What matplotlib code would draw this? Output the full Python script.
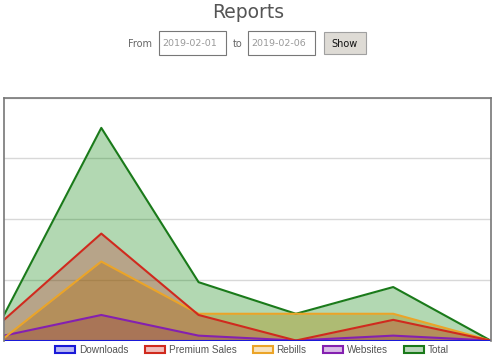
import matplotlib
matplotlib.use("Agg")
import matplotlib.pyplot as plt
from matplotlib.patches import Rectangle

# Daily report values (one point per day of the selected range)
dates = ["2019-02-01", "2019-02-02", "2019-02-03", "2019-02-04", "2019-02-05", "2019-02-06"]
downloads = [0, 0, 0, 0, 0, 0]
premium_sales = [17, 88, 21, 0, 17, 0]
rebills = [2, 65, 22, 22, 22, 0]
websites = [4, 21, 4, 0, 4, 0]
total = [21, 175, 48, 22, 44, 0]

series_names = ["Downloads", "Premium Sales", "Rebills", "Websites", "Total"]
line_colors = ["#1a1ad8", "#d02a1e", "#eba428", "#8420b0", "#1a7a1a"]
# fills are translucent and stack on top of each other like the canvas chart
fill_colors = [(0.1, 0.1, 0.85, 0.3), (0.78, 0.12, 0.12, 0.28), (0.66, 0.55, 0.05, 0.38),
               (0.4, 0.16, 0.6, 0.33), (0.0, 0.5, 0.0, 0.3)]

W, H = 500, 356
fig = plt.figure(figsize=(W / 100, H / 100), dpi=100)


def fx(px):
    return px / W


def fy(py):
    return 1 - py / H


# page header: title plus the date range form
fig.text(fx(248), fy(13), "Reports", ha="center", va="center", fontsize=13.5, color="#555555")
fig.text(fx(140), fy(44), "From", ha="center", va="center", fontsize=7, color="#666666")
fig.text(fx(238), fy(44), "to", ha="center", va="center", fontsize=7, color="#666666")
for x0, label in [(159, "2019-02-01"), (248, "2019-02-06")]:
    fig.patches.append(Rectangle((fx(x0), fy(55)), fx(67), 24 / H, transform=fig.transFigure,
                                 facecolor="white", edgecolor="#777777", lw=0.8))
    fig.text(fx(x0 + 3), fy(44), label, ha="left", va="center", fontsize=6.8, color="#999999")
fig.patches.append(Rectangle((fx(324), fy(54)), fx(42), 22 / H, transform=fig.transFigure,
                             facecolor="#dedbd5", edgecolor="#a0a0a0", lw=0.8))
fig.text(fx(345), fy(44), "Show", ha="center", va="center", fontsize=7, color="#111111")

ax = fig.add_axes([fx(4), fy(340.5), fx(486.5), (340.5 - 97.5) / H])
x = list(range(len(dates)))
values = [downloads, premium_sales, rebills, websites, total]

# draw last series first so Downloads ends up on top
for i in reversed(range(len(values))):
    ax.fill_between(x, values[i], 0, color=fill_colors[i], lw=0)
    ax.plot(x, values[i], color=line_colors[i], lw=1.5)

ax.set_xlim(0, len(dates) - 1)
ax.set_ylim(0, 200)
ax.set_yticks([0, 50, 100, 150, 200])
ax.set_xticks([])
ax.tick_params(left=False, labelleft=False)
ax.grid(axis="y", color="#d8d8d8", lw=1)
ax.set_axisbelow(True)
for side in ["left", "top", "right"]:
    ax.spines[side].set_color("#777777")
    ax.spines[side].set_linewidth(1.2)
ax.spines["bottom"].set_visible(False)

handles = [Rectangle((0, 0), 1, 1, facecolor=(*matplotlib.colors.to_rgb(c), 0.3),
                     edgecolor=c, lw=1.5) for c in line_colors]
fig.legend(handles, series_names, loc="center", bbox_to_anchor=(fx(252), fy(350)),
           ncol=5, frameon=False, handlelength=2.0, handleheight=0.6,
           columnspacing=1.6, handletextpad=0.4, prop={"family": "Liberation Sans", "size": 7.2},
           labelcolor="#555555", borderpad=0.1)

fig.savefig("out.png", dpi=100)
